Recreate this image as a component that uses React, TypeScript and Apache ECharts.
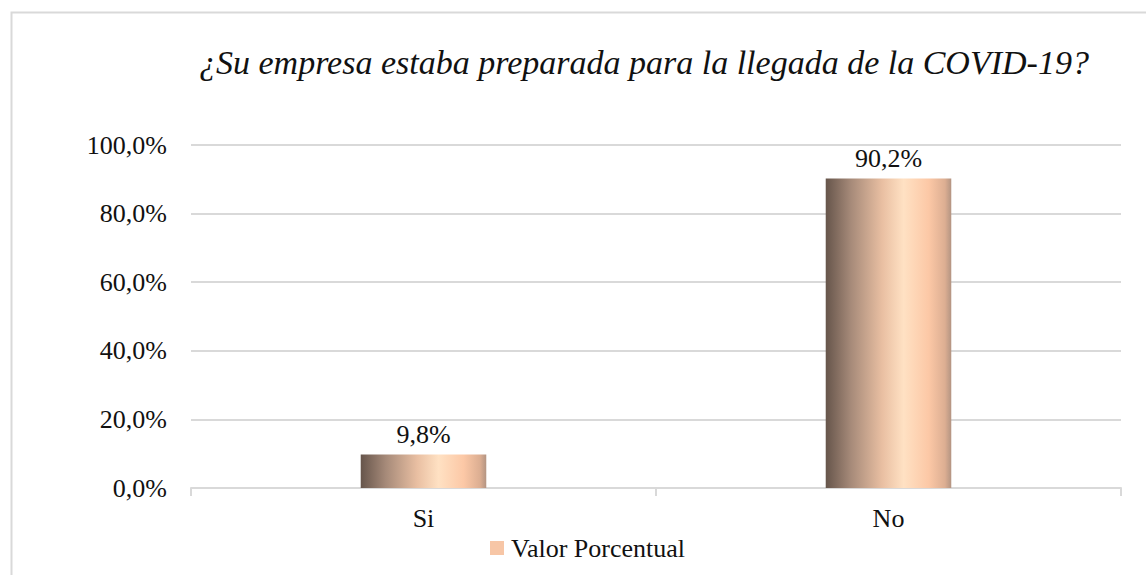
import React, { useEffect, useRef } from "react";
import * as echarts from "echarts";

const categories = ["Si", "No"];
const seriesName = "Valor Porcentual";
const values = [9.8, 90.2];
const titleText = "¿Su empresa estaba preparada para la llegada de la COVID-19?";

const fmt = (v: number) => v.toFixed(1).replace(".", ",") + "%";

export default function App() {
  const ref = useRef<HTMLDivElement>(null);
  useEffect(() => {
    if (!ref.current) return;
    const chart = echarts.init(ref.current, undefined, { renderer: "svg" });
    const font = "Liberation Serif, Times New Roman, serif";
    const grad = new echarts.graphic.LinearGradient(0, 0, 1, 0, [
      { offset: 0, color: "#66554b" },
      { offset: 0.2, color: "#a68a79" },
      { offset: 0.45, color: "#e9bfa2" },
      { offset: 0.62, color: "#ffe1c3" },
      { offset: 0.82, color: "#fcc8a6" },
      { offset: 0.95, color: "#dcae92" },
      { offset: 1, color: "#b39482" },
    ]);
    chart.setOption({
      animation: false,
      backgroundColor: "#ffffff",
      textStyle: { fontFamily: font },
      title: {
        text: titleText,
        left: 194,
        top: 40,
        textStyle: {
          fontFamily: font,
          fontStyle: "italic",
          fontWeight: "normal",
          fontSize: 34,
          color: "#111111",
        },
      },
      graphic: [
        {
          type: "rect",
          shape: { x: 11.5, y: 12.5, width: 1300, height: 700 },
          style: { fill: "none", stroke: "#d9d9d9", lineWidth: 2 },
          silent: true,
        },
      ],
      legend: {
        data: [{ name: seriesName, itemStyle: { color: "#f7c6a6" } }],
        left: 485,
        top: 530,
        itemWidth: 14,
        itemHeight: 14,
        icon: "rect",
        textStyle: { fontFamily: font, fontSize: 26, color: "#111111", padding: [0, 0, 0, 2] },
      },
      grid: { left: 191, right: 25, top: 145, bottom: 87, containLabel: false },
      xAxis: {
        type: "category",
        data: categories,
        boundaryGap: true,
        axisLine: { lineStyle: { color: "#d9d9d9", width: 2 } },
        axisTick: { show: true, length: 8, lineStyle: { color: "#d9d9d9", width: 2 } },
        axisLabel: { fontFamily: font, fontSize: 26, color: "#111111", margin: 17 },
      },
      yAxis: {
        type: "value",
        min: 0,
        max: 100,
        interval: 20,
        axisLine: { show: false },
        axisTick: { show: false },
        splitLine: { lineStyle: { color: "#d9d9d9", width: 2 } },
        axisLabel: {
          fontFamily: font,
          fontSize: 26,
          color: "#111111",
          margin: 24,
          formatter: (v: number) => fmt(v),
        },
      },
      series: [
        {
          name: seriesName,
          type: "bar",
          data: values,
          barWidth: "27%",
          itemStyle: { color: grad },
          label: {
            show: true,
            position: "top",
            distance: 7,
            fontFamily: font,
            fontSize: 26,
            color: "#111111",
            formatter: (p: any) => fmt(p.value),
          },
        },
      ],
    });
    return () => chart.dispose();
  }, []);
  return (
    <div
      ref={ref}
      style={{ position: "fixed", left: 0, top: 0, width: 1146, height: 575, background: "#fff" }}
    />
  );
}
